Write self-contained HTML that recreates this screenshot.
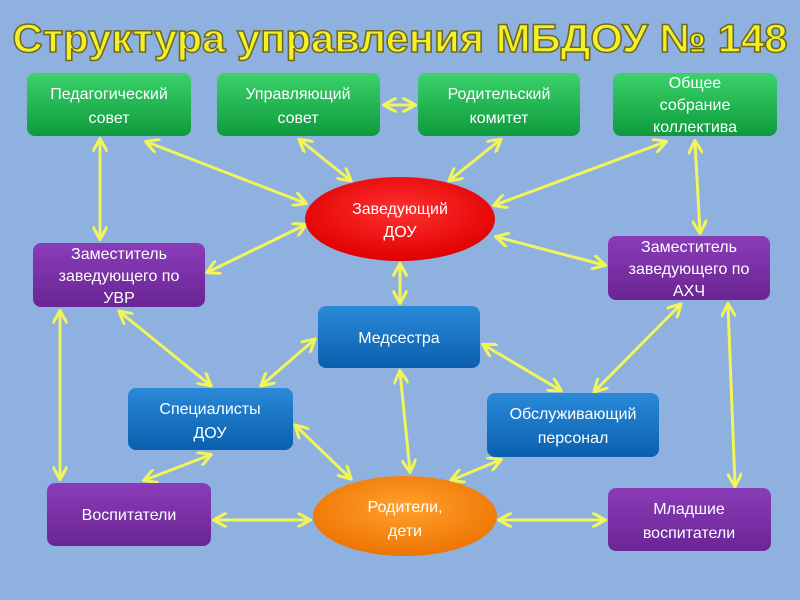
<!DOCTYPE html>
<html><head><meta charset="utf-8"><style>
html,body{margin:0;padding:0;width:800px;height:600px;overflow:hidden;background:#8fb1e0;}
svg{display:block}
text{font-family:"Liberation Sans","DejaVu Sans",sans-serif;}
</style></head><body>
<svg width="800" height="600" viewBox="0 0 800 600" xmlns="http://www.w3.org/2000/svg">
<defs>
<marker id="a" viewBox="0 0 10 10" refX="8" refY="5" markerWidth="5" markerHeight="5" orient="auto-start-reverse" markerUnits="strokeWidth">
<path d="M0,0 L9,5 L0,10" fill="none" stroke="#f2f55a" stroke-width="2"/></marker>
<linearGradient id="g" x1="0" y1="0" x2="0" y2="1"><stop offset="0" stop-color="#3bd26c"/><stop offset="1" stop-color="#0e9a3c"/></linearGradient>
<linearGradient id="b" x1="0" y1="0" x2="0" y2="1"><stop offset="0" stop-color="#2a8ad8"/><stop offset="1" stop-color="#0a5fae"/></linearGradient>
<linearGradient id="p" x1="0" y1="0" x2="0" y2="1"><stop offset="0" stop-color="#8a3cb8"/><stop offset="1" stop-color="#6a2594"/></linearGradient>
<radialGradient id="r" cx="0.5" cy="0.4" r="0.6"><stop offset="0" stop-color="#ff3030"/><stop offset="1" stop-color="#e00000"/></radialGradient>
<radialGradient id="o" cx="0.5" cy="0.4" r="0.6"><stop offset="0" stop-color="#ffa030"/><stop offset="1" stop-color="#ee7400"/></radialGradient>
</defs>
<text x="400" y="52" text-anchor="middle" font-size="40" font-weight="bold" fill="#f4ef2a" stroke="#6b6a20" stroke-width="1.5" textLength="775" lengthAdjust="spacingAndGlyphs">Структура управления МБДОУ № 148</text>
<g stroke="#f2f55a" stroke-width="3" fill="none" marker-start="url(#a)" marker-end="url(#a)">
<line x1="100" y1="140" x2="100" y2="238"/>
<line x1="147" y1="142" x2="305" y2="203"/>
<line x1="300" y1="140" x2="350" y2="180"/>
<line x1="385" y1="105" x2="414" y2="105"/>
<line x1="500" y1="140" x2="450" y2="180"/>
<line x1="665" y1="142" x2="495" y2="205"/>
<line x1="695" y1="142" x2="700" y2="232"/>
<line x1="208" y1="272" x2="305" y2="225"/>
<line x1="497" y1="237" x2="604" y2="265"/>
<line x1="400" y1="265" x2="400" y2="302"/>
<line x1="120" y1="312" x2="210" y2="385"/>
<line x1="314" y1="340" x2="262" y2="385"/>
<line x1="484" y1="345" x2="560" y2="390"/>
<line x1="680" y1="305" x2="595" y2="391"/>
<line x1="60" y1="312" x2="60" y2="478"/>
<line x1="210" y1="455" x2="145" y2="480"/>
<line x1="296" y1="426" x2="350" y2="478"/>
<line x1="400" y1="372" x2="410" y2="471"/>
<line x1="500" y1="460" x2="452" y2="480"/>
<line x1="215" y1="520" x2="309" y2="520"/>
<line x1="500" y1="520" x2="604" y2="520"/>
<line x1="728" y1="305" x2="735" y2="485"/>
</g>
<g font-size="16" fill="#fff" text-anchor="middle">
<rect x="27" y="73" width="164" height="63" rx="8" fill="url(#g)"/>
<text x="109" y="99">Педагогический</text><text x="109" y="123">совет</text>
<rect x="217" y="73" width="163" height="63" rx="8" fill="url(#g)"/>
<text x="298" y="99">Управляющий</text><text x="298" y="123">совет</text>
<rect x="418" y="73" width="162" height="63" rx="8" fill="url(#g)"/>
<text x="499" y="99">Родительский</text><text x="499" y="123">комитет</text>
<rect x="613" y="73" width="164" height="63" rx="8" fill="url(#g)"/>
<text x="695" y="88">Общее</text><text x="695" y="110">собрание</text><text x="695" y="132">коллектива</text>
<ellipse cx="400" cy="219" rx="95" ry="42" fill="url(#r)"/>
<text x="400" y="214">Заведующий</text><text x="400" y="237">ДОУ</text>
<rect x="33" y="243" width="172" height="64" rx="8" fill="url(#p)"/>
<text x="119" y="259">Заместитель</text><text x="119" y="281">заведующего по</text><text x="119" y="303">УВР</text>
<rect x="608" y="236" width="162" height="64" rx="8" fill="url(#p)"/>
<text x="689" y="252">Заместитель</text><text x="689" y="274">заведующего по</text><text x="689" y="296">АХЧ</text>
<rect x="318" y="306" width="162" height="62" rx="8" fill="url(#b)"/>
<text x="399" y="343">Медсестра</text>
<rect x="128" y="388" width="165" height="62" rx="8" fill="url(#b)"/>
<text x="210" y="414">Специалисты</text><text x="210" y="438">ДОУ</text>
<rect x="487" y="393" width="172" height="64" rx="8" fill="url(#b)"/>
<text x="573" y="419">Обслуживающий</text><text x="573" y="443">персонал</text>
<rect x="47" y="483" width="164" height="63" rx="8" fill="url(#p)"/>
<text x="129" y="520">Воспитатели</text>
<ellipse cx="405" cy="516" rx="92" ry="40" fill="url(#o)"/>
<text x="405" y="512">Родители,</text><text x="405" y="536">дети</text>
<rect x="608" y="488" width="163" height="63" rx="8" fill="url(#p)"/>
<text x="689" y="514">Младшие</text><text x="689" y="538">воспитатели</text>
</g>
</svg>
</body></html>
